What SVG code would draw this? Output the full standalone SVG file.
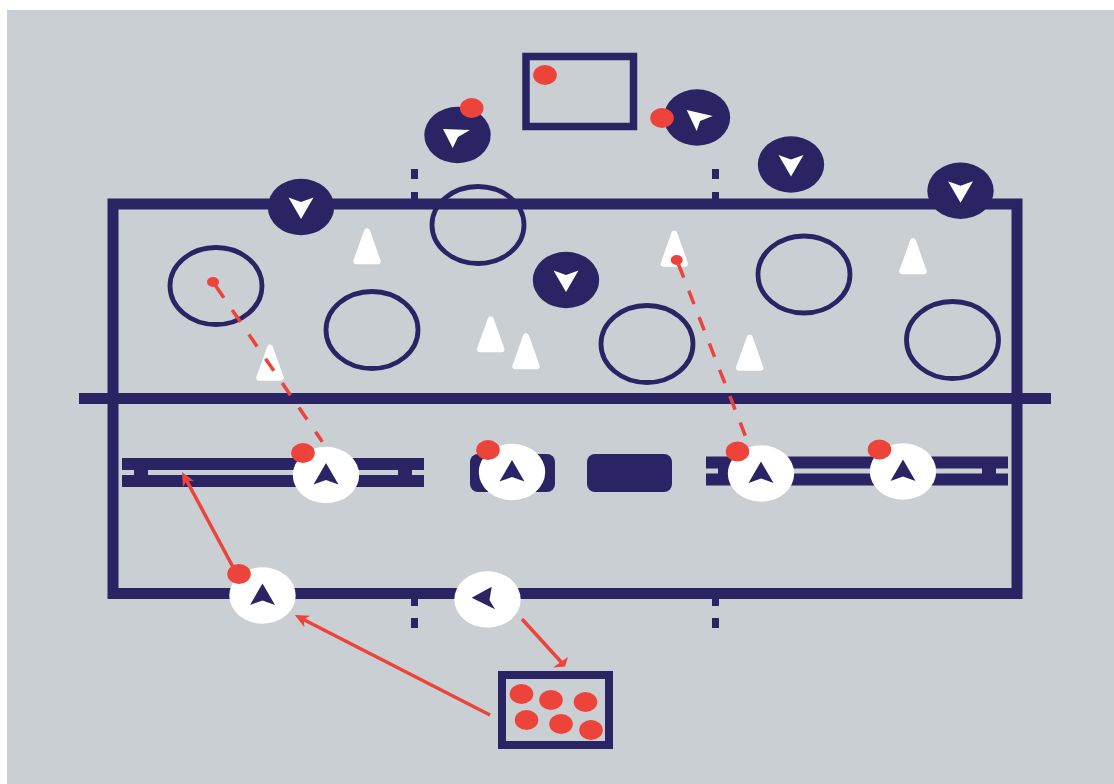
<svg xmlns="http://www.w3.org/2000/svg" width="1114" height="784" viewBox="0 0 1114 784">
<style>
.n{fill:#2a2464}
.w{fill:#fff}
.r{fill:#ec433a}
.o{fill:none;stroke:#2a2464}
.ring{fill:none;stroke:#2a2464;stroke-width:4.8}
.a{fill:none;stroke:#ec433a;stroke-width:3.5}
.cone{fill:#fff;stroke:#fff;stroke-width:6;stroke-linejoin:round}
</style>
<defs>
<marker id="head" markerUnits="userSpaceOnUse" markerWidth="20" markerHeight="20" refX="6" refY="10" orient="auto"><path d="M14 10L0 3.500 4 10 0 16.500Z" fill="#ec433a"/></marker>
<path id="arrow" d="M0-12L12.500 9.500 0 5-12.500 9.500Z"/>
<ellipse id="disc" rx="33.200" ry="28.200"/>
<ellipse id="dot" rx="11.800" ry="10" class="r"/>
<path id="cone" class="cone" d="M0-33L10.700-3H-10.700Z"/>
<path id="bar" d="M0 0h302v12h-302zM0 17h302v12h-302z"/>
</defs>
<rect x="7" y="10" width="1107" height="774" fill="#cacfd3"/>
<g id="field">
<rect class="o" x="113" y="204" width="904" height="389.500" stroke-width="11"/>
<rect class="n" x="79" y="393" width="972" height="11"/>
<path class="n" d="M411 169h7v10h-7zM411 192h7v8h-7zM712 169h7v10h-7zM712 192h7v8h-7zM411 598h7v8h-7zM411 618h7v10h-7zM712 598h7v8h-7zM712 618h7v10h-7z"/>
</g>
<g id="hoops">
<ellipse id="hoop1" class="ring" cx="216" cy="286" rx="46" ry="38.500"/>
<ellipse id="hoop2" class="ring" cx="372" cy="330" rx="46" ry="38.500"/>
<ellipse id="hoop3" class="ring" cx="478" cy="225" rx="46" ry="38.500"/>
<ellipse id="hoop4" class="ring" cx="647" cy="344" rx="46" ry="38.500"/>
<ellipse id="hoop5" class="ring" cx="804" cy="274.500" rx="46" ry="38.500"/>
<ellipse id="hoop6" class="ring" cx="952.500" cy="340" rx="46" ry="38.500"/>
</g>
<g id="cones">
<use href="#cone" x="367" y="264.300"/>
<use href="#cone" x="270" y="380.700"/>
<use href="#cone" x="490.700" y="352.300"/>
<use href="#cone" x="526" y="369.300"/>
<use href="#cone" x="674.300" y="266.700"/>
<use href="#cone" x="749.700" y="370.700"/>
<use href="#cone" x="913" y="274.300"/>
</g>
<g id="bench-left"><use href="#bar" class="n" x="122" y="458"/><path class="n" d="M134 468h14v9h-14zM398 468h14v9h-14z"/></g>
<g id="bench-right"><use href="#bar" class="n" x="706" y="456.500"/><path class="n" d="M718 467h14v9h-14zM982 467h14v9h-14z"/></g>
<g id="block-1"><rect class="n" x="470" y="454" width="85" height="38" rx="8"/></g>
<g id="block-2"><rect class="n" x="587" y="454" width="85" height="38" rx="8"/></g>
<g id="goal-top"><rect class="o" x="526" y="56.500" width="107.500" height="70" stroke-width="7.500"/><use href="#dot" x="545" y="75"/></g>
<g id="ball-box"><rect class="o" x="502" y="675" width="107" height="70" stroke-width="8"/>
<use href="#dot" x="521.500" y="694"/><use href="#dot" x="551" y="700"/><use href="#dot" x="585.500" y="702"/><use href="#dot" x="526.500" y="720"/><use href="#dot" x="561" y="724"/><use href="#dot" x="591" y="730"/></g>
<g id="connectors">
<path class="a" stroke-dasharray="14.600 14.900" d="M215.600 285.700L322.300 441.700"/>
<path class="a" stroke-dasharray="14.400 13.900" d="M678.500 264.300L745.300 435.700"/>
<path class="a" d="M233 567L185.800 479" marker-end="url(#head)"/>
<path class="a" d="M490 715L302 618.700" marker-end="url(#head)"/>
<path class="a" d="M522 619L563 664"/>
<path class="r" d="M568 657L553 667.500 565 666.500Z"/>
<ellipse class="r" cx="213" cy="282" rx="6" ry="5"/>
<ellipse class="r" cx="676.700" cy="260" rx="6" ry="5"/>
</g>
<g id="def1"><use href="#disc" class="n" x="301" y="207"/><use href="#arrow" class="w" transform="translate(301 207) rotate(180)"/></g>
<g id="def2"><use href="#disc" class="n" x="457.500" y="135"/><path class="w" d="M443 129L470 130 458 137 452.700 148Z"/><use href="#dot" x="471.700" y="108"/></g>
<g id="def3"><use href="#disc" class="n" x="697" y="117.500"/><path class="w" d="M686.700 110L712.700 116 700 121 696.700 131Z"/><use href="#dot" x="662" y="118"/></g>
<g id="def4"><use href="#disc" class="n" x="791" y="164.500"/><use href="#arrow" class="w" transform="translate(791 164.500) rotate(180)"/></g>
<g id="def5"><use href="#disc" class="n" x="960.500" y="190.700"/><use href="#arrow" class="w" transform="translate(960.500 190.700) rotate(180)"/></g>
<g id="def6"><use href="#disc" class="n" x="566" y="280"/><use href="#arrow" class="w" transform="translate(566 280) rotate(180)"/></g>
<g id="att1"><use href="#disc" class="w" x="326" y="475"/><use href="#arrow" class="n" transform="translate(326 475)"/><use href="#dot" x="303" y="453"/></g>
<g id="att2"><use href="#disc" class="w" x="512" y="472"/><use href="#arrow" class="n" transform="translate(512 472)"/><use href="#dot" x="488" y="450"/></g>
<g id="att3"><use href="#disc" class="w" x="761" y="473.500"/><use href="#arrow" class="n" transform="translate(761 473.500)"/><use href="#dot" x="737.500" y="451.500"/></g>
<g id="att4"><use href="#disc" class="w" x="903" y="471.500"/><use href="#arrow" class="n" transform="translate(903 471.500)"/><use href="#dot" x="879.500" y="449.500"/></g>
<g id="att5"><use href="#disc" class="w" x="262.500" y="595.500"/><use href="#arrow" class="n" transform="translate(262.500 595.500)"/><use href="#dot" x="239" y="574"/></g>
<g id="att6"><use href="#disc" class="w" x="487.500" y="599.500"/><path class="n" d="M471.700 597.700L491.700 586.700 489.500 600 495 609.300Z"/></g>
</svg>
